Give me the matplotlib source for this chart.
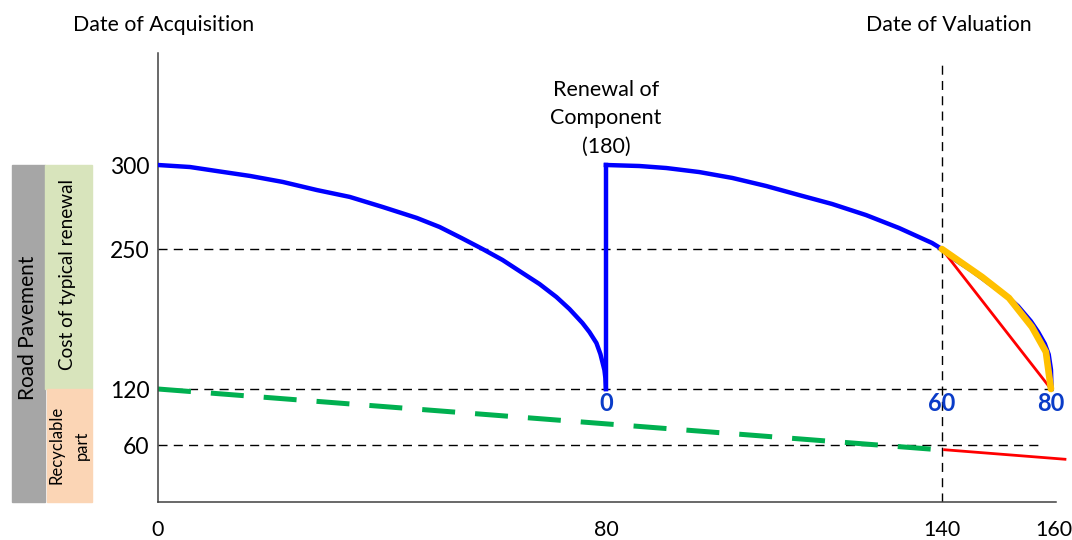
import numpy as np
import matplotlib.pyplot as plt
import matplotlib.transforms as mtransforms
from matplotlib.patches import Rectangle

plt.rcParams['font.family'] = ['Lato', 'DejaVu Sans']

# ---- data ----
x_ticks = [0, 80, 140, 160]
y_ticks = [60, 120, 250, 300]

# first life of the pavement, acquisition -> renewal
first_x = [0, 5.71, 10.52, 16.41, 22.30, 28.36, 34.25, 40.14, 46.21, 50.30,
           54.23, 57.97, 61.54, 65.11, 68.14, 71.17, 73.49, 75.81, 77.06,
           78.31, 79.02, 79.74, 79.91, 80]
first_y = [300, 298.8, 296.4, 293.5, 289.9, 285.1, 281.0, 275.0, 268.5, 263.1,
           256.5, 250, 239.8, 227.7, 217.5, 205.4, 194.3, 181.3, 172.9,
           162.7, 152.5, 137.6, 130.2, 120]

# renewal jump at age 80
renewal_x = [80, 80]
renewal_y = [120, 300]

# second life after renewal
second_x = [80, 85.98, 90.8, 96.68, 102.57, 108.63, 114.52, 120.4, 126.47,
            132.36, 138.25, 140, 141.6, 145.2, 148.2, 151.3, 153.6,
            155.9, 157.2, 158.4, 159.1, 159.5, 159.6]
second_y = [300, 299.4, 298.2, 295.8, 292.3, 287.5, 282.1, 276.8, 270.2,
            262.5, 253.6, 250, 242.6, 230.5, 219.0, 207.5, 197.0,
            183.0, 173.0, 162.0, 152.0, 138.0, 120]

# remaining part after valuation date
orange_x = [140, 147.2, 152.0, 156.1, 158.6, 159.5]
orange_y = [250, 224, 204.5, 177.6, 154.4, 120]

red_x = [140, 159.5]
red_y = [250, 120]

green_x = [0, 139.5]
green_y = [120, 55]

red_low_x = [140.5, 162]
red_low_y = [55, 45]

age_labels = ['0', '60', '80']
age_x = [80, 140, 159.5]

# ---- non linear y axis (piecewise, like the original drawing) ----
Y_KNOTS = [0, 60, 120, 250, 300, 365]
Y_POS = [0, 57, 113, 253, 337, 449]


def fwd(v):
    return np.interp(v, Y_KNOTS, Y_POS)


def inv(p):
    return np.interp(p, Y_POS, Y_KNOTS)


fig = plt.figure(figsize=(10.72, 5.4), dpi=100)
ax = fig.add_axes([158 / 1072, 38 / 540, 898 / 1072, 449 / 540])
ax.set_yscale('function', functions=(fwd, inv))
ax.set_xlim(0, 160.4)
ax.set_ylim(0, 365)

for s in ['top', 'right']:
    ax.spines[s].set_visible(False)
for s in ['left', 'bottom']:
    ax.spines[s].set_color('#404040')
    ax.spines[s].set_linewidth(1.1)

ax.set_xticks(x_ticks)
ax.set_xticklabels([str(v) for v in x_ticks], fontsize=15.5)
ax.set_yticks(y_ticks)
ax.set_yticklabels([str(v) for v in y_ticks], fontsize=16.5)
ax.yaxis.set_minor_locator(plt.NullLocator())
ax.tick_params(axis='x', length=0, pad=13)
ax.tick_params(axis='y', length=0, pad=6)

# dashed guide lines
dash = dict(color='black', lw=1, dashes=(6.5, 4.5), zorder=1)
ax.plot([0, 140], [250, 250], **dash)
ax.plot([0, 160.2], [120, 120], **dash, clip_on=False)
ax.plot([0, 157.5], [60, 60], **dash)
ax.plot([140, 140], [0, 359], **dash)

# curves
ax.plot(green_x, green_y, color='#00B050', lw=3.6, dashes=(6.6, 4.0), zorder=2)
ax.plot(red_low_x, red_low_y, color='#FF0000', lw=2, clip_on=False, zorder=2)
ax.plot(first_x, first_y, color='#0000FF', lw=3.2, zorder=3)
ax.plot(renewal_x, renewal_y, color='#0000FF', lw=3.2, zorder=3)
ax.plot(second_x, second_y, color='#0000FF', lw=3.2, zorder=3, clip_on=False)
ax.plot(red_x, red_y, color='#FF0000', lw=2, zorder=4)
ax.plot(orange_x, orange_y, color='#FFC000', lw=4.8, zorder=5, clip_on=False,
        solid_capstyle='round')

for lab, xv in zip(age_labels, age_x):
    ax.annotate(lab, (xv, 120), xytext=(0, -2), textcoords='offset points',
                ha='center', va='top', fontsize=17, fontweight='bold',
                color='#0A3CC8', annotation_clip=False)

ax.text(80, 327, 'Renewal of\nComponent\n(180)', ha='center', va='center',
        fontsize=15.5, linespacing=1.5)

trans = mtransforms.blended_transform_factory(ax.transData, ax.transAxes)
ax.text(1.0, 1.062, 'Date of Acquisition', transform=trans, ha='center',
        va='center', fontsize=15.3)
ax.text(141.3, 1.062, 'Date of Valuation', transform=trans, ha='center',
        va='center', fontsize=15.3)

# side boxes on the left
side = mtransforms.blended_transform_factory(ax.transAxes, ax.transData)
ax.add_patch(Rectangle((-0.1628, 0), 0.0368, 300, transform=side,
                       color='#A6A6A6', clip_on=False))
ax.add_patch(Rectangle((-0.126, 120), 0.0524, 180, transform=side,
                       color='#D8E4BC', clip_on=False))
ax.add_patch(Rectangle((-0.1238, 0), 0.0502, 120, transform=side,
                       color='#FBD5B5', clip_on=False))
ax.text(-0.1444, 177, 'Road Pavement', transform=side, rotation=90,
        ha='center', va='center', fontsize=15)
ax.text(-0.1003, 226, 'Cost of typical renewal', transform=side, rotation=90,
        ha='center', va='center', fontsize=13.6)
ax.text(-0.0985, 60, 'Recyclable\npart', transform=side, rotation=90,
        ha='center', va='center', fontsize=12, linespacing=1.7)

fig.savefig('out.png', dpi=100)
